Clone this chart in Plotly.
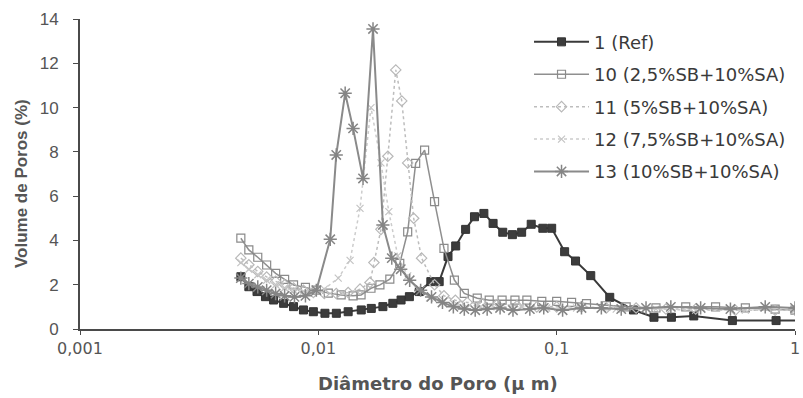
import plotly.graph_objects as go

# ---------------- data ----------------
x_ref = [0.00473, 0.00511, 0.00553, 0.00600, 0.00649, 0.00715, 0.00787, 0.00866, 0.00953, 0.01066,
         0.0119, 0.01334, 0.01514, 0.01668, 0.01866, 0.02054, 0.02224, 0.0241, 0.02653, 0.02965,
         0.03214, 0.0350, 0.0377, 0.0415, 0.0452, 0.0495, 0.0541, 0.0594, 0.0652, 0.0713,
         0.0782, 0.0875, 0.0953, 0.108, 0.120, 0.139, 0.167, 0.210, 0.256, 0.303,
         0.376, 0.546, 0.833, 1.05]
y_ref = [2.36, 1.91, 1.69, 1.46, 1.31, 1.16, 1.01, 0.86, 0.78, 0.71,
         0.71, 0.78, 0.86, 0.93, 1.01, 1.16, 1.31, 1.46, 1.69, 2.14,
         2.14, 3.27, 3.75, 4.5, 5.07, 5.22, 4.77, 4.37, 4.26, 4.37,
         4.73, 4.55, 4.55, 3.49, 3.07, 2.41, 1.43, 0.86, 0.53, 0.53,
         0.59, 0.38, 0.38, 0.38]

x_10 = [0.00473, 0.00511, 0.00557, 0.00607, 0.00662, 0.00722, 0.00787, 0.00883, 0.00981, 0.01101,
        0.01247, 0.01399, 0.01511, 0.01663, 0.01813, 0.01995, 0.02196, 0.02371, 0.02561, 0.02792,
        0.03073, 0.03366, 0.03722, 0.04097, 0.04642, 0.05212, 0.05902, 0.06683, 0.07499, 0.08660,
        0.1, 0.1155, 0.1334, 0.1616, 0.1957, 0.2610, 0.3480, 0.4642, 0.6190, 0.8254, 1.0]
y_10 = [4.1, 3.57, 3.24, 2.89, 2.51, 2.24, 1.99, 1.88, 1.76, 1.62,
        1.54, 1.5, 1.54, 1.84, 1.99, 2.25, 2.96, 4.39, 7.48, 8.08,
        5.75, 3.64, 2.21, 1.61, 1.39, 1.3, 1.3, 1.3, 1.3, 1.25,
        1.25, 1.2, 1.15, 1.05, 1.0, 0.95, 1.0, 1.0, 0.95, 0.9, 0.85]

x_11 = [0.00473, 0.00511, 0.00557, 0.00607, 0.00662, 0.00722, 0.00787, 0.00866, 0.00953, 0.01059,
        0.01189, 0.01334, 0.01496, 0.01647, 0.01711, 0.01831, 0.01957, 0.02113, 0.02239, 0.02371,
        0.02512, 0.02712, 0.03073, 0.03366, 0.03758, 0.04217, 0.04870, 0.05623, 0.06813, 0.08254,
        0.1, 0.1271, 0.1616, 0.2154, 0.2873, 0.3831, 0.5623, 0.8254, 1.0]
y_11 = [3.2, 2.9, 2.6, 2.35, 2.15, 2.0, 1.85, 1.75, 1.65, 1.6,
        1.6, 1.65, 1.8, 2.1, 3.0, 4.5, 7.8, 11.7, 10.3, 7.5,
        5.0, 3.2, 2.0, 1.5, 1.3, 1.2, 1.15, 1.1, 1.05, 1.0,
        1.0, 1.0, 0.95, 0.95, 0.9, 0.9, 0.85, 0.85, 0.85]

x_12 = [0.00473, 0.00511, 0.00557, 0.00607, 0.00662, 0.00722, 0.00787, 0.00866, 0.00953, 0.01059,
        0.01212, 0.01359, 0.01496, 0.01663, 0.01831, 0.01976, 0.02154, 0.02371, 0.0261, 0.02929,
        0.03318, 0.03831, 0.04642, 0.05623, 0.07147, 0.09085, 0.1212, 0.1778, 0.261, 0.3831,
        0.619, 1.0]
y_12 = [3.0, 2.7, 2.45, 2.2, 2.0, 1.85, 1.75, 1.7, 1.7, 1.8,
        2.3, 3.1, 5.45, 10.0, 7.5, 5.3, 3.3, 2.4, 1.8, 1.4,
        1.2, 1.1, 1.05, 1.0, 1.0, 0.95, 0.95, 0.9, 0.9, 0.85,
        0.85, 0.85]

x_13 = [0.00473, 0.00511, 0.00557, 0.00607, 0.00662, 0.00722, 0.00794, 0.00883, 0.00981, 0.01122,
        0.01189, 0.01296, 0.01399, 0.0154, 0.01696, 0.01866, 0.02033, 0.02217, 0.02417, 0.02687,
        0.02985, 0.03318, 0.03686, 0.04097, 0.04552, 0.0511, 0.05789, 0.06556, 0.07716, 0.08826,
        0.1059, 0.1271, 0.154, 0.1866, 0.2371, 0.3013, 0.4019, 0.5359, 0.7499, 1.0]
y_13 = [2.3, 2.05, 1.9, 1.75, 1.6, 1.5, 1.45, 1.5, 1.75, 4.05,
        7.86, 10.65, 9.06, 6.8, 13.55, 4.7, 3.2, 2.7, 2.2, 1.75,
        1.45, 1.2, 1.0, 0.9, 0.85, 0.9, 0.95, 0.85, 0.9, 0.95,
        0.85, 0.95, 0.95, 0.9, 0.95, 1.0, 0.95, 0.9, 1.0, 0.95]

series_names = ["1 (Ref)", "10 (2,5%SB+10%SA)", "11 (5%SB+10%SA)",
                "12 (7,5%SB+10%SA)", "13 (10%SB+10%SA)"]

x_tick_vals = [0.001, 0.01, 0.1, 1]
x_tick_text = ["0,001", "0,01", "0,1", "1"]
y_tick_vals = [0, 2, 4, 6, 8, 10, 12, 14]

# ---------------- figure ----------------
NARROW = "Liberation Sans, Arial, sans-serif"
WIDE = "DejaVu Sans, Verdana, sans-serif"
fig = go.Figure()

styles = [
    dict(x=x_ref, y=y_ref, line=dict(color="#3a3a3a", width=2),
         marker=dict(symbol="square", size=8, color="#3c3c3c",
                     line=dict(color="#333333", width=1))),
    dict(x=x_10, y=y_10, line=dict(color="#8f8f8f", width=1.5),
         marker=dict(symbol="square-open", size=8, color="#8a8a8a",
                     line=dict(color="#8a8a8a", width=1.2))),
    dict(x=x_11, y=y_11, line=dict(color="#bdbdbd", width=1.5, dash="dot"),
         marker=dict(symbol="diamond-open", size=8, color="#b8b8b8",
                     line=dict(color="#b8b8b8", width=1.2))),
    dict(x=x_12, y=y_12, line=dict(color="#cccccc", width=1.5, dash="dot"),
         marker=dict(symbol="x-thin-open", size=7, color="#c4c4c4",
                     line=dict(color="#c4c4c4", width=1.2))),
    dict(x=x_13, y=y_13, line=dict(color="#8a8a8a", width=2),
         marker=dict(symbol="asterisk-open", size=11, color="#858585",
                     line=dict(color="#858585", width=1.5))),
]

for name, st in zip(series_names, styles):
    fig.add_trace(go.Scatter(x=st["x"], y=st["y"], name=name, mode="lines+markers",
                             line=st["line"], marker=st["marker"],
                             legendgroup=name, cliponaxis=True))

fig.update_layout(
    width=803, height=398,
    margin=dict(l=80, r=3, t=19, b=69),
    paper_bgcolor="white", plot_bgcolor="white",
    font=dict(family=NARROW, size=16, color="#4a4a4a"),
    legend=dict(x=0.628, y=0.985, xanchor="left", yanchor="top",
                font=dict(family=WIDE, size=18, color="#3a3a3a"),
                bgcolor="rgba(0,0,0,0)", traceorder="grouped",
                tracegroupgap=6, itemwidth=55),
    xaxis=dict(type="log", range=[-3, 0], showgrid=False, zeroline=False,
               showline=True, linecolor="#4a4a4a", linewidth=2,
               tickvals=x_tick_vals, ticktext=x_tick_text,
               ticks="outside", ticklen=4, tickcolor="#4a4a4a",
               ticklabeloverflow="allow",
               tickfont=dict(family=WIDE, size=16, color="#555555")),
    yaxis=dict(range=[0, 14], showgrid=False, zeroline=False,
               showline=True, linecolor="#4a4a4a", linewidth=2,
               tickvals=y_tick_vals, ticks="outside", ticklen=5,
               tickcolor="#4a4a4a", ticklabelstandoff=11,
               tickfont=dict(family=NARROW, size=17, color="#555555")),
    annotations=[
        dict(text="<b>Volume de Poros (%)</b>", xref="paper", yref="paper",
             x=-0.0815, y=0.47, xanchor="center", yanchor="middle",
             textangle=-90, showarrow=False,
             font=dict(family=NARROW, size=17, color="#555555")),
        dict(text="<b>Diâmetro do Poro (μ m)</b>", xref="paper", yref="paper",
             x=0.5, y=-0.175, xanchor="center", yanchor="middle",
             showarrow=False,
             font=dict(family=WIDE, size=18, color="#555555")),
    ],
)

fig.write_html("out.html")
